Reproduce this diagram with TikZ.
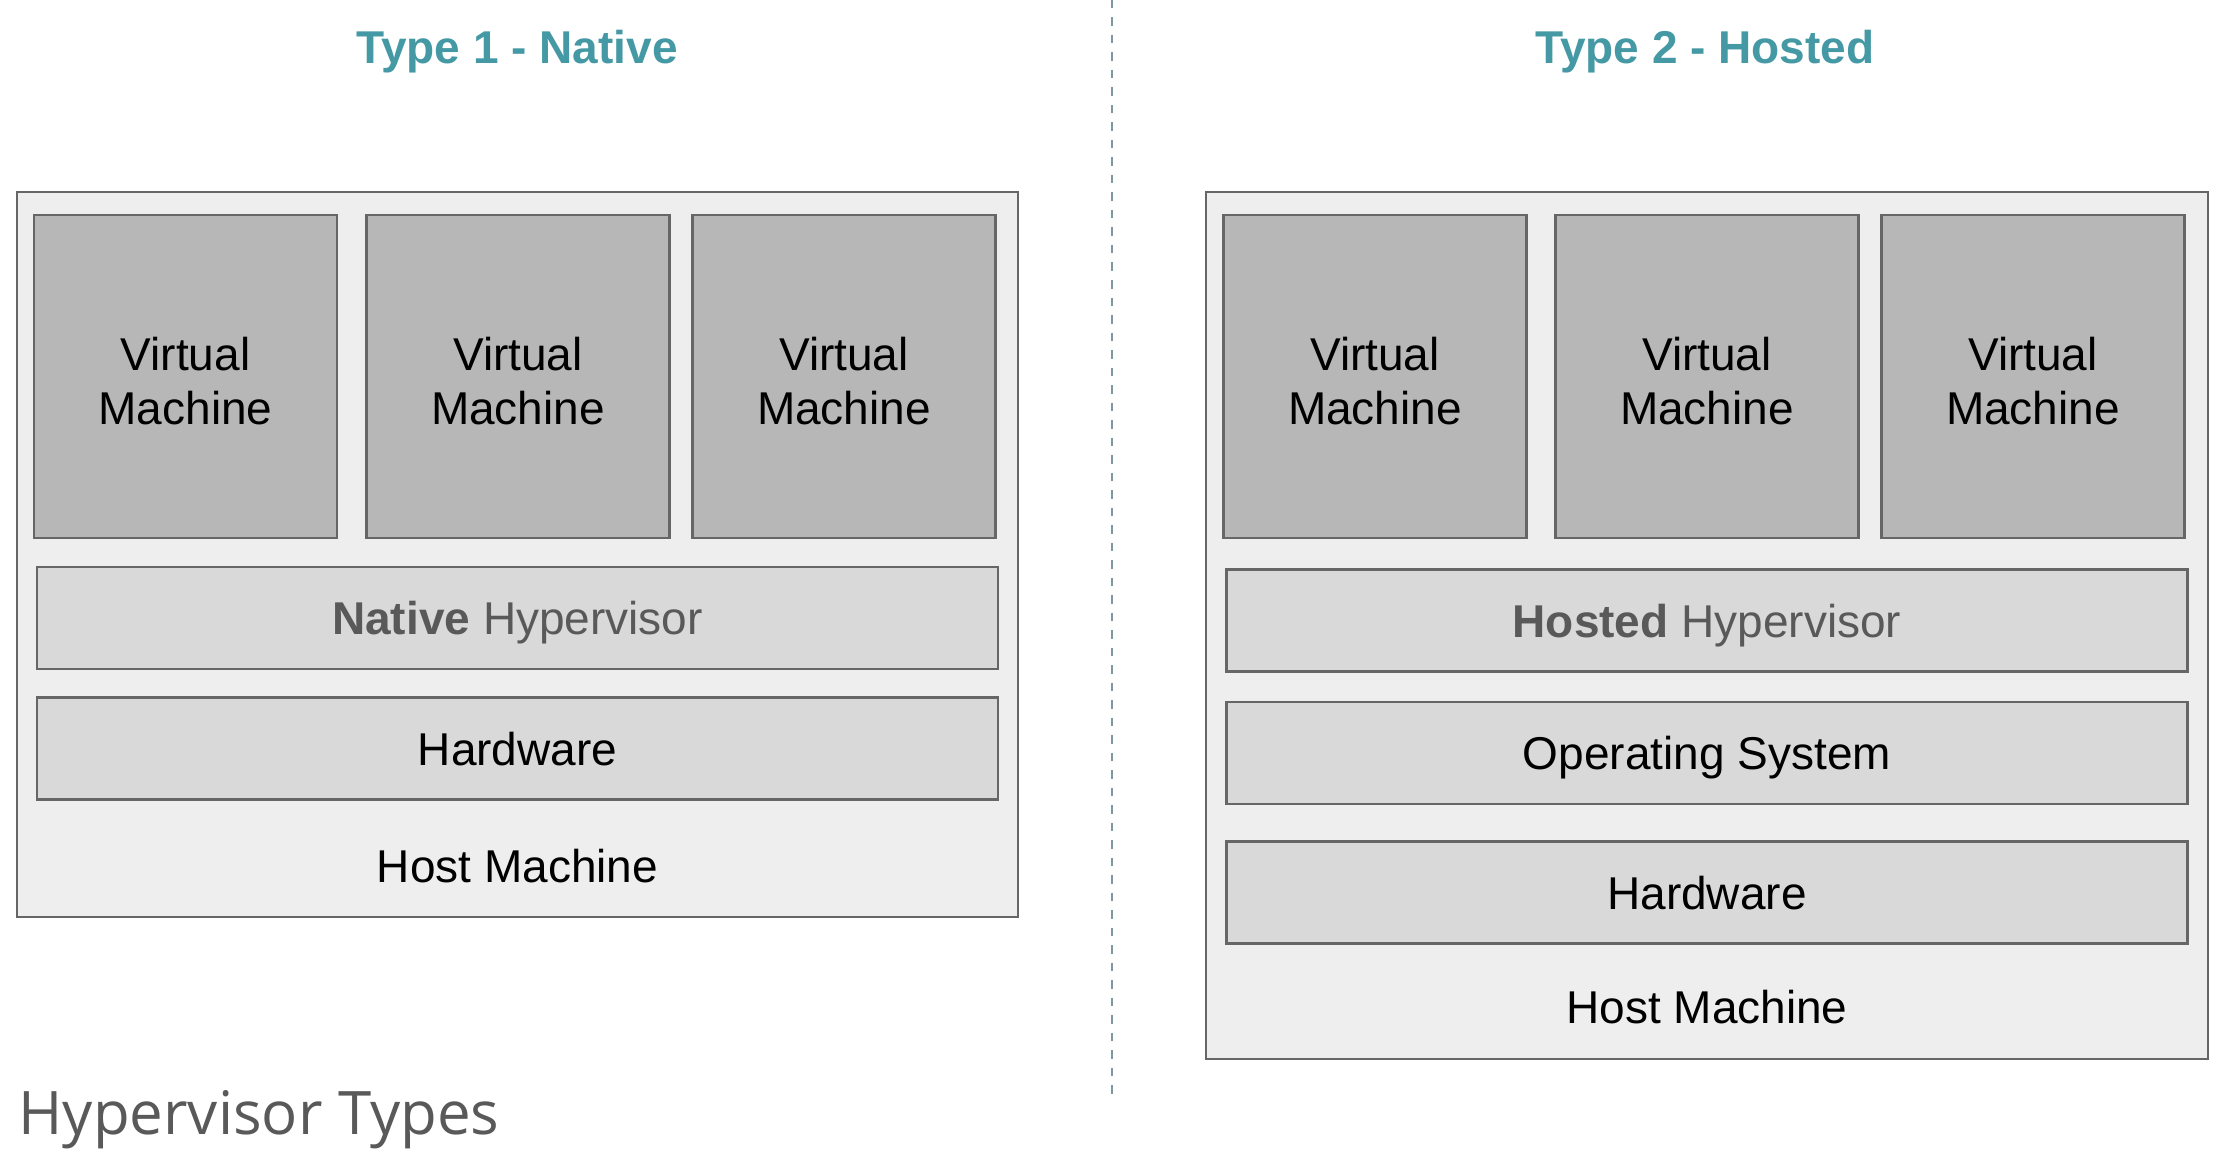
\documentclass[tikz,border=0pt]{standalone}
\usepackage{fontspec}
\setmainfont{Liberation Sans}
\newfontfamily\captionfont{Open Sans}
\definecolor{teal}{HTML}{4599A5}
\definecolor{edgegray}{HTML}{666666}
\definecolor{hostfill}{HTML}{EEEEEE}
\definecolor{vmfill}{HTML}{B7B7B7}
\definecolor{layerfill}{HTML}{D9D9D9}
\definecolor{hypertext}{HTML}{595959}
\definecolor{dividercol}{HTML}{7F96A3}
% two centred lines, lowered a little inside the box
\newcommand{\vmtext}{\raisebox{-4pt}[\height][\depth]{\begin{tabular}{@{}c@{}}Virtual\\Machine\end{tabular}}}
\begin{document}
\begin{tikzpicture}[x=0.4pt,y=-0.4pt,
  basefont/.style={font=\fontsize{18.4}{21.6}\selectfont},
  capcentre/.style={text depth=0pt,text height=13.25pt},
  hostbox/.style={draw=edgegray,fill=hostfill,line width=1pt,rectangle,inner sep=0pt},
  vmbox/.style={draw=edgegray,fill=vmfill,line width=1pt,rectangle,inner sep=0pt,
    minimum width=121.2pt,minimum height=129.2pt,basefont},
  layerbox/.style={draw=edgegray,fill=layerfill,line width=1pt,rectangle,inner sep=0pt,
    minimum width=384.4pt,minimum height=40.8pt,basefont,capcentre},
  label/.style={inner sep=0pt,basefont,capcentre},
  heading/.style={inner sep=0pt,text=teal,font=\fontsize{18.4}{21.6}\selectfont\bfseries,capcentre},
  divider/.style={draw=dividercol,line width=0.8pt,dash pattern=on 3.4pt off 3.6pt}
]
\useasboundingbox[fill=white] (0,0) rectangle (2232,1164);

% divider between the two columns
\coordinate (dtop) at (1112,0);
\coordinate (dbot) at (1112,1099);
\draw[divider] (dtop) -- (dbot);

% ---------- Type 1 ----------
\node[heading] (t1) at (517,47) {Type 1 - Native};
\node[hostbox,minimum width=400.4pt,minimum height=290pt] (hostA) at (517.5,554.5) {};
\node[vmbox] (vmA1) at (185.5,376.5) {\vmtext};
\node[vmbox] (vmA2) at (518,376.5) {\vmtext};
\node[vmbox] (vmA3) at (844,376.5) {\vmtext};
\node[layerbox,text=hypertext] (hypA) at (517.5,618) {\textbf{Native} Hypervisor};
\node[layerbox] (hwA) at (517.5,748.5) {Hardware};
\node[label] (hmA) at (517.5,866) {Host Machine};

% ---------- Type 2 ----------
\node[heading] (t2) at (1705,47) {Type 2 - Hosted};
\node[hostbox,minimum width=400.8pt,minimum height=346.8pt] (hostB) at (1707,625.5) {};
\node[vmbox] (vmB1) at (1375,376.5) {\vmtext};
\node[vmbox] (vmB2) at (1707,376.5) {\vmtext};
\node[vmbox] (vmB3) at (2033,376.5) {\vmtext};
\node[layerbox,text=hypertext] (hypB) at (1707,620.5) {\textbf{Hosted} Hypervisor};
\node[layerbox] (osB) at (1707,753) {Operating System};
\node[layerbox] (hwB) at (1707,892.5) {Hardware};
\node[label] (hmB) at (1707,1007) {Host Machine};

% caption
\node[anchor=west,inner sep=0pt,text=hypertext,text depth=0pt,text height=17.3pt,
  font=\captionfont\fontsize{24}{28}\selectfont] (cap) at (18,1113) {Hypervisor Types};
\end{tikzpicture}
\end{document}
